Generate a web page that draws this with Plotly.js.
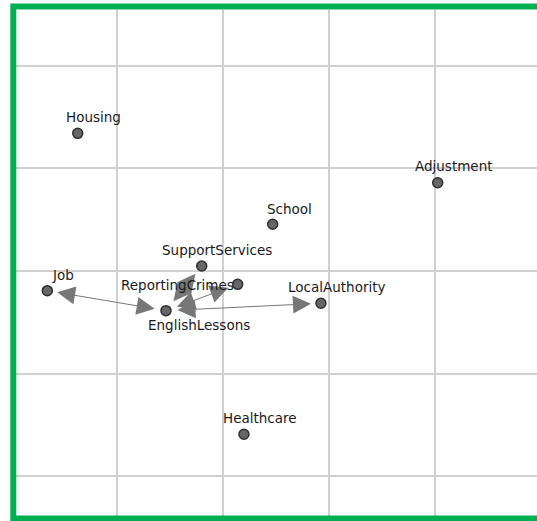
<!DOCTYPE html>
<html>
<head>
<meta charset="utf-8">
<script src="https://cdn.plot.ly/plotly-3.0.1.min.js"></script>
<style>
  html, body { margin: 0; padding: 0; background: #ffffff; }
  #chart { width: 537px; height: 521px; }
</style>
</head>
<body>
<div id="chart"></div>
<script>
// Node data (layout coordinates)
const nodeNames = ['Housing', 'Adjustment', 'School', 'SupportServices', 'ReportingCrimes',
                   'Job', 'LocalAuthority', 'EnglishLessons', 'Healthcare'];
const nodeX = [0.627, 4.021, 2.465, 1.796, 2.135, 0.340, 2.920, 1.459, 2.194];
const nodeY = [3.343, 2.861, 2.456, 2.049, 1.870, 1.808, 1.685, 1.613, 0.407];

// Edges (bidirectional)
const edgeFrom = ['EnglishLessons', 'EnglishLessons', 'EnglishLessons', 'EnglishLessons'];
const edgeTo   = ['Job', 'SupportServices', 'ReportingCrimes', 'LocalAuthority'];

// Label placement offsets in pixels (style), same order as nodeNames
const labelDX = [16, 16, 17, 15, -60, 16, 16, 33, 16];
const labelDY = [16, 17, 15, 16, -1, 16, 16, -14, 16];

const idx = {};
nodeNames.forEach((n, i) => idx[n] = i);

const nodeTrace = {
  type: 'scatter',
  mode: 'markers',
  x: nodeX,
  y: nodeY,
  text: nodeNames,
  hoverinfo: 'text',
  cliponaxis: false,
  marker: { size: 10, color: '#666666', line: { color: '#2f2f2f', width: 1.5 } }
};

const annotations = [];
for (let k = 0; k < edgeFrom.length; k++) {
  const a = idx[edgeFrom[k]], b = idx[edgeTo[k]];
  annotations.push({
    x: nodeX[b], y: nodeY[b], xref: 'x', yref: 'y',
    ax: nodeX[a], ay: nodeY[a], axref: 'x', ayref: 'y',
    text: '', showarrow: true,
    arrowside: 'end+start',
    arrowhead: 2, startarrowhead: 2,
    arrowsize: 3.6, startarrowsize: 3.6,
    arrowwidth: 1, arrowcolor: '#777777',
    standoff: 10, startstandoff: 10
  });
}
nodeNames.forEach((n, i) => {
  annotations.push({
    x: nodeX[i], y: nodeY[i], xref: 'x', yref: 'y',
    text: n, showarrow: false,
    xanchor: 'center', yanchor: 'middle',
    xshift: labelDX[i], yshift: labelDY[i],
    font: { family: 'DejaVu Sans, sans-serif', size: 13.5, color: '#1a1a1a' }
  });
});

const layout = {
  width: 537, height: 521,
  margin: { l: 16, r: 0, t: 10, b: 5, pad: 0 },
  paper_bgcolor: '#ffffff',
  plot_bgcolor: '#ffffff',
  showlegend: false,
  xaxis: {
    range: [0.045, 4.957], dtick: 1, tick0: 0,
    showgrid: true, gridcolor: '#d0d0d0', gridwidth: 2,
    zeroline: false, showticklabels: false, ticks: '', showline: false, fixedrange: true
  },
  yaxis: {
    range: [-0.390, 4.546], dtick: 1, tick0: 0,
    showgrid: true, gridcolor: '#d0d0d0', gridwidth: 2,
    zeroline: false, showticklabels: false, ticks: '', showline: false, fixedrange: true
  },
  shapes: [{
    type: 'rect', xref: 'paper', yref: 'paper',
    x0: -0.0052, x1: 1.03, y0: -0.0049, y1: 1.0071,
    line: { color: '#00b050', width: 6 },
    fillcolor: 'rgba(0,0,0,0)', layer: 'above'
  }],
  annotations: annotations
};

Plotly.newPlot('chart', [nodeTrace], layout, { displayModeBar: false, staticPlot: true });
</script>
</body>
</html>
